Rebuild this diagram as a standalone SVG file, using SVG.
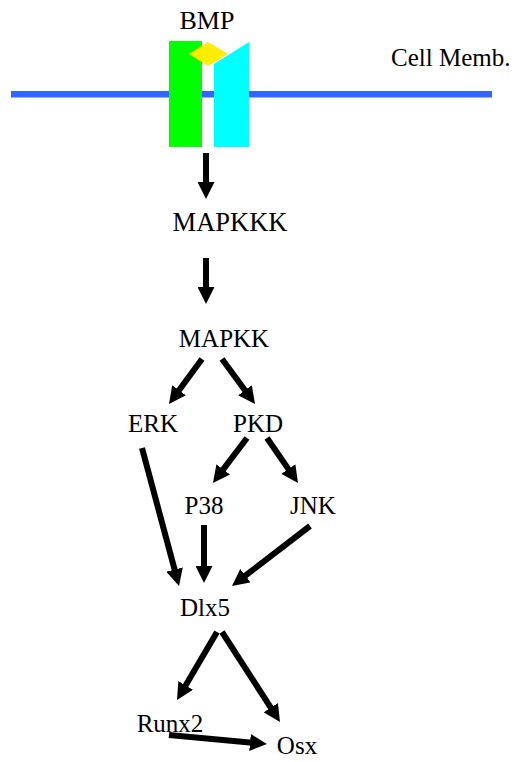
<svg xmlns="http://www.w3.org/2000/svg" width="519" height="762" viewBox="0 0 519 762">
  <style>
    .lbl { font-family: "Liberation Serif", "Times New Roman", serif; font-size: 25px; fill: #000; text-anchor: middle; }
    .edge { stroke: #000; stroke-width: 6; fill: none; marker-end: url(#head); }
  </style>
  <defs>
    <marker id="head" markerUnits="userSpaceOnUse" viewBox="0 0 17 17" markerWidth="17" markerHeight="17" refX="5" refY="8.5" orient="auto">
      <path d="M0,0 L17,8.5 L0,17 Z" fill="#000"/>
    </marker>
  </defs>
  <rect width="519" height="762" fill="#fff"/>

  <!-- membrane and receptor -->
  <g id="membrane">
    <rect x="11" y="91" width="481" height="6.5" fill="#3366ff"/>
    <text class="lbl" x="391" y="66" style="text-anchor:start">Cell Memb.</text>
  </g>
  <g id="receptor">
    <rect x="169" y="41" width="33" height="106" fill="#00ff00"/>
    <polygon points="189,54 208,42 228,54 208,66" fill="#ffee00"/>
    <polygon points="214,64 249,42 249,147 214,147" fill="#00ffff"/>
    <text class="lbl" x="207" y="29" style="font-size:26px">BMP</text>
  </g>

  <!-- nodes -->
  <g id="MAPKKK"><text class="lbl" x="230" y="231" style="font-size:26.5px">MAPKKK</text></g>
  <g id="MAPKK"><text class="lbl" x="224" y="347">MAPKK</text></g>
  <g id="ERK"><text class="lbl" x="153" y="432">ERK</text></g>
  <g id="PKD"><text class="lbl" x="258" y="432">PKD</text></g>
  <g id="P38"><text class="lbl" x="204" y="514">P38</text></g>
  <g id="JNK"><text class="lbl" x="313" y="514">JNK</text></g>
  <g id="Dlx5"><text class="lbl" x="205" y="616">Dlx5</text></g>
  <g id="Runx2"><text class="lbl" x="170" y="732">Runx2</text></g>
  <g id="Osx"><text class="lbl" x="297" y="754">Osx</text></g>

  <!-- connectors -->
  <g id="connectors">
    <line class="edge" x1="206" y1="153" x2="206" y2="187"/>
    <line class="edge" x1="206" y1="258" x2="206" y2="292"/>
    <line class="edge" x1="202" y1="359" x2="176.1" y2="394.3"/>
    <line class="edge" x1="222" y1="359" x2="247.9" y2="394.3"/>
    <line class="edge" x1="247" y1="438" x2="220.2" y2="473.4"/>
    <line class="edge" x1="267" y1="438" x2="291.2" y2="473.1"/>
    <line class="edge" x1="142" y1="448" x2="175.9" y2="574.4"/>
    <line class="edge" x1="204" y1="525" x2="204" y2="571"/>
    <line class="edge" x1="310" y1="526" x2="241.5" y2="578.7"/>
    <line class="edge" x1="217" y1="632" x2="183.1" y2="689.7"/>
    <line class="edge" x1="222" y1="632" x2="273.5" y2="711.9"/>
    <line class="edge" x1="169" y1="735" x2="255" y2="742.9"/>
  </g>
</svg>
